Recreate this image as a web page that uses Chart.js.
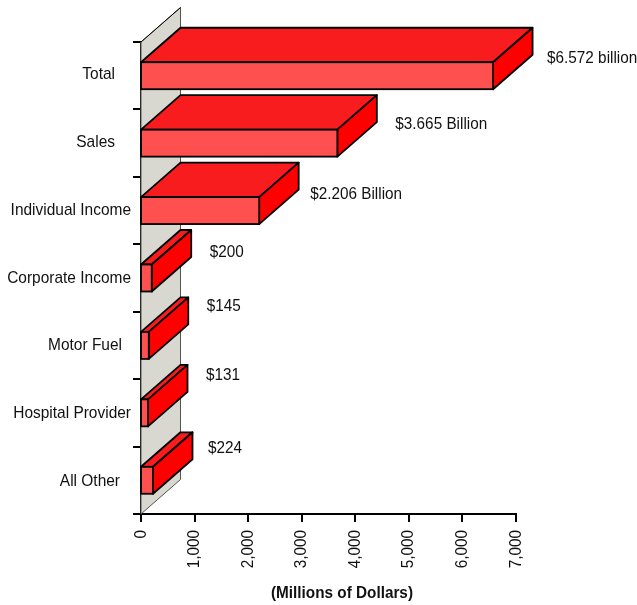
<!DOCTYPE html>
<html>
<head>
<meta charset="utf-8">
<script src="https://cdn.jsdelivr.net/npm/chart.js@4"></script>
<style>
    html, body { margin: 0; padding: 0; background: #fff; }
    canvas { display: block; }
</style>
</head>
<body>
<canvas id="revenueChart" width="637" height="605"></canvas>
<script>
const categories = ['Total', 'Sales', 'Individual Income', 'Corporate Income', 'Motor Fuel', 'Hospital Provider', 'All Other'];
const revenue = [6572, 3665, 2206, 200, 145, 131, 224];
const valueLabels = ['$6.572 billion', '$3.665 Billion', '$2.206 Billion', '$200', '$145', '$131', '$224'];
const axisTitle = '(Millions of Dollars)';

// category name position against the axis and the band centre [gap, dy]
const nameOffsets = [[26, 3], [26, 4], [10, 4], [10, 5], [19, 5], [10, 5], [21, 6]];
// value label offset from the right end of the front face [dx, dy]
const labelOffsets = [[54, -13], [58, -14], [51, -12], [58, -21], [58, -34], [58, -33], [55, -27]];

const FONT = '"Liberation Sans", Arial, sans-serif';
const TEXT_SIZE = 17;
const DEPTH_X = 39.5;
const DEPTH_Y = 34.5;
const EDGE = 1.8;

function poly(ctx, pts, fill) {
    ctx.beginPath();
    ctx.moveTo(pts[0][0], pts[0][1]);
    for (let i = 1; i < pts.length; i++) ctx.lineTo(pts[i][0], pts[i][1]);
    ctx.closePath();
    ctx.fillStyle = fill;
    ctx.fill();
    ctx.stroke();
}

// the type is set narrow, so it goes through a horizontal squeeze
function squeezedText(ctx, text, x, y, squeeze, align, angle) {
    ctx.save();
    ctx.translate(x, y);
    if (angle) ctx.rotate(angle);
    ctx.scale(squeeze, 1);
    ctx.textAlign = align;
    ctx.fillText(text, 0, 0);
    ctx.restore();
}

const backWall = {
    id: 'backWall',
    beforeDatasetsDraw(chart) {
        const {ctx, chartArea: a} = chart;
        ctx.save();
        ctx.strokeStyle = '#55554f';
        ctx.lineWidth = 1;
        poly(ctx, [
            [a.left, a.top],
            [a.left + DEPTH_X, a.top - DEPTH_Y],
            [a.left + DEPTH_X, a.bottom - DEPTH_Y],
            [a.left, a.bottom],
        ], '#d8d8d0');
        // top edge of the wall is darker than the rest
        ctx.strokeStyle = '#000';
        ctx.beginPath();
        ctx.moveTo(a.left, a.top);
        ctx.lineTo(a.left + DEPTH_X, a.top - DEPTH_Y);
        ctx.stroke();
        ctx.restore();
    }
};

// top and end faces of each bar, the front face is the bar element itself
const barFaces = {
    id: 'barFaces',
    beforeDatasetsDraw(chart) {
        const {ctx} = chart;
        const base = chart.scales.x.getPixelForValue(0);
        ctx.save();
        ctx.strokeStyle = '#000';
        ctx.lineWidth = EDGE;
        ctx.lineJoin = 'round';
        chart.getDatasetMeta(0).data.forEach(bar => {
            const top = bar.y - bar.height / 2;
            const bottom = bar.y + bar.height / 2;
            poly(ctx, [[base, top], [bar.x, top], [bar.x + DEPTH_X, top - DEPTH_Y], [base + DEPTH_X, top - DEPTH_Y]], '#f91c1f');
            poly(ctx, [[bar.x, top], [bar.x + DEPTH_X, top - DEPTH_Y], [bar.x + DEPTH_X, bottom - DEPTH_Y], [bar.x, bottom]], '#ff0000');
        });
        ctx.restore();
    },
    afterDatasetsDraw(chart) {
        const {ctx} = chart;
        const base = chart.scales.x.getPixelForValue(0);
        ctx.save();
        ctx.strokeStyle = '#000';
        ctx.lineWidth = EDGE;
        chart.getDatasetMeta(0).data.forEach(bar => {
            ctx.strokeRect(base, bar.y - bar.height / 2, bar.x - base, bar.height);
        });
        ctx.restore();
    }
};

const chartTexts = {
    id: 'chartTexts',
    afterDraw(chart) {
        const {ctx} = chart;
        const xScale = chart.scales.x;
        const yScale = chart.scales.y;
        ctx.save();
        ctx.fillStyle = '#111';
        ctx.textBaseline = 'alphabetic';
        ctx.font = TEXT_SIZE + 'px ' + FONT;
        categories.forEach((name, i) => {
            const [gap, dy] = nameOffsets[i];
            squeezedText(ctx, name, chart.chartArea.left - gap, yScale.getPixelForValue(i) + dy, 0.91, 'right');
        });
        chart.getDatasetMeta(0).data.forEach((bar, i) => {
            const [dx, dy] = labelOffsets[i];
            squeezedText(ctx, valueLabels[i], bar.x + dx, bar.y + dy, 0.9, 'left');
        });
        xScale.ticks.forEach((tick, i) => {
            const label = tick.value.toLocaleString('en-US');
            squeezedText(ctx, label, xScale.getPixelForTick(i) + 4.5, 530, 0.9, 'right', -Math.PI / 2);
        });
        ctx.font = 'bold ' + TEXT_SIZE + 'px ' + FONT;
        squeezedText(ctx, axisTitle, 342, 598, 0.9, 'center');
        ctx.restore();
    }
};

new Chart(document.getElementById('revenueChart'), {
    type: 'bar',
    data: {
        labels: categories,
        datasets: [{
            data: revenue,
            backgroundColor: '#ff5050',
            borderWidth: 0,
            barPercentage: 0.4,
            categoryPercentage: 1,
        }]
    },
    options: {
        indexAxis: 'y',
        responsive: false,
        animation: false,
        layout: { padding: { top: 42, right: 121, left: 0, bottom: 0 } },
        plugins: {
            legend: { display: false },
            tooltip: { enabled: false },
        },
        scales: {
            x: {
                min: 0,
                max: 7000,
                afterFit(scale) { scale.height = 91; },
                grid: { drawOnChartArea: false, color: '#000', lineWidth: 2, tickLength: 8 },
                border: { color: '#000', width: 2 },
                ticks: { stepSize: 1000, display: false },
            },
            y: {
                afterFit(scale) { scale.width = 141; },
                grid: { drawOnChartArea: false, color: '#000', lineWidth: 2, tickLength: 8 },
                border: { color: '#000', width: 2 },
                ticks: { display: false },
            },
        },
    },
    plugins: [backWall, barFaces, chartTexts],
});
</script>
</body>
</html>
